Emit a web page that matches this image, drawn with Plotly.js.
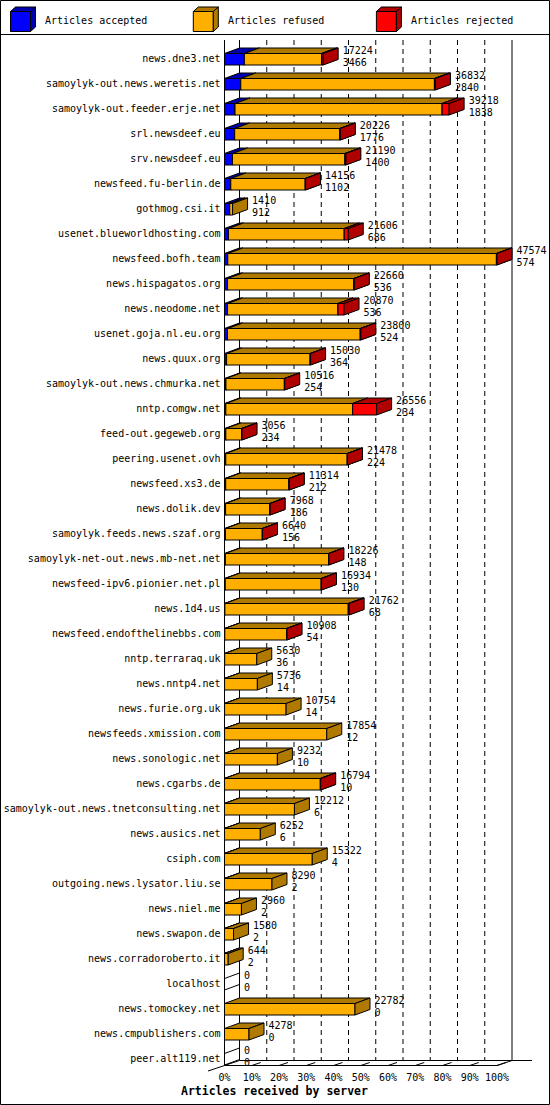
<!DOCTYPE html>
<html>
<head>
<meta charset="utf-8">
<script src="https://cdn.plot.ly/plotly-3.0.1.min.js"></script>
<style>
  html, body { margin: 0; padding: 0; background: #fff; }
  #chart { width: 550px; height: 1105px; }
</style>
</head>
<body>
<div id="chart"></div>
<script>
// ---------------- data ----------------
const hosts = [
  "news.dne3.net", "samoylyk-out.news.weretis.net", "samoylyk-out.feeder.erje.net",
  "srl.newsdeef.eu", "srv.newsdeef.eu", "newsfeed.fu-berlin.de", "gothmog.csi.it",
  "usenet.blueworldhosting.com", "newsfeed.bofh.team", "news.hispagatos.org",
  "news.neodome.net", "usenet.goja.nl.eu.org", "news.quux.org",
  "samoylyk-out.news.chmurka.net", "nntp.comgw.net", "feed-out.gegeweb.org",
  "peering.usenet.ovh", "newsfeed.xs3.de", "news.dolik.dev",
  "samoylyk.feeds.news.szaf.org", "samoylyk-net-out.news.mb-net.net",
  "newsfeed-ipv6.pionier.net.pl", "news.1d4.us", "newsfeed.endofthelinebbs.com",
  "nntp.terraraq.uk", "news.nntp4.net", "news.furie.org.uk", "newsfeeds.xmission.com",
  "news.sonologic.net", "news.cgarbs.de", "samoylyk-out.news.tnetconsulting.net",
  "news.ausics.net", "csiph.com", "outgoing.news.lysator.liu.se", "news.niel.me",
  "news.swapon.de", "news.corradoroberto.it", "localhost", "news.tomockey.net",
  "news.cmpublishers.com", "peer.alt119.net"
];
// articles received (upper label)
const received = [
  17224, 36832, 39218, 20226, 21190, 14156, 1410, 21606, 47574, 22660,
  20870, 23800, 15030, 10516, 26556, 3056, 21478, 11314, 7968, 6640,
  18226, 16934, 21762, 10908, 5630, 5736, 10754, 17854, 9232, 16794,
  12212, 6252, 15322, 8290, 2960, 1580, 644, 0, 22782, 4278, 0
];
// articles accepted (lower label)
const accepted = [
  3466, 2840, 1838, 1776, 1400, 1102, 912, 686, 574, 536,
  536, 524, 364, 254, 234, 234, 224, 212, 186, 156,
  148, 130, 68, 54, 36, 14, 14, 12, 10, 10,
  6, 6, 4, 2, 2, 2, 2, 0, 0, 0, 0
];
// articles rejected (estimated from the red segments)
const rejected = [
  260, 180, 1220, 80, 150, 60, 0, 700, 100, 60,
  1050, 100, 80, 60, 4190, 60, 50, 60, 50, 40,
  60, 50, 150, 50, 0, 0, 0, 0, 0, 60,
  0, 0, 0, 0, 0, 0, 0, 0, 0, 0, 0
];
const refused = received.map((t, i) => t - accepted[i] - rejected[i]);
const tickPercents = [0, 10, 20, 30, 40, 50, 60, 70, 80, 90, 100];
const tickLabels = tickPercents.map(p => p + "%");

const seriesNames = ["Articles accepted", "Articles refused", "Articles rejected"];
const seriesValues = [accepted, refused, rejected];
const frontColors = ["#0000ff", "#ffaf00", "#ff0000"];
const darkColors = ["#0000b0", "#b07a00", "#b00000"];

// ---------------- geometry ----------------
const W = 550, H = 1105;
const X0 = 224.5, X100 = 497;          // pixel of 0% and 100%
const ROW0 = 59.5, PITCH = 25;         // pixel of first row centre, row pitch
const PXPCT = (X100 - X0) / 100;
const xRange = [-X0 / PXPCT, (W - X0) / PXPCT];
const yTopR = -ROW0 / PITCH, yBotR = (H - ROW0) / PITCH;
const px2x = px => (px - X0) / PXPCT;
const py2r = py => (py - ROW0) / PITCH;

const DX = 15 / PXPCT;          // depth in x (percent units)
const DY = -5.5 / PITCH;        // depth in y (row units)
const TOP = -6 / PITCH, BOT = 5.5 / PITCH;

const maxReceived = Math.max(...received);
const pct = v => v / maxReceived * 100;
const rows = hosts.map((_, i) => i);

function pushPoly(arr, pts) {
  pts.forEach(p => { arr.x.push(p[0]); arr.y.push(p[1]); });
  arr.x.push(pts[0][0]); arr.y.push(pts[0][1]);
  arr.x.push(null); arr.y.push(null);
}

const traces = [];
const starts = received.map(() => 0);
seriesValues.forEach((vals, s) => {
  const front = {x: [], y: []}, top = {x: [], y: []}, side = {x: [], y: []};
  vals.forEach((v, i) => {
    if (v <= 0) return;
    const a = pct(starts[i]), b = pct(starts[i] + v);
    starts[i] += v;
    const yt = i + TOP, yb = i + BOT;
    pushPoly(front, [[a, yt], [b, yt], [b, yb], [a, yb]]);
    pushPoly(top, [[a, yt], [b, yt], [b + DX, yt + DY], [a + DX, yt + DY]]);
    pushPoly(side, [[b, yt], [b + DX, yt + DY], [b + DX, yb + DY], [b, yb]]);
  });
  [[front, frontColors[s]], [top, darkColors[s]], [side, darkColors[s]]].forEach(([d, c]) => {
    traces.push({
      type: "scatter", mode: "lines", x: d.x, y: d.y,
      fill: "toself", fillcolor: c,
      line: {color: "#000", width: 1},
      name: seriesNames[s], hoverinfo: "skip", showlegend: false
    });
  });
});

// empty rows: outline of an empty box
const empty = {x: [], y: []};
received.forEach((t, i) => {
  if (t > 0) return;
  const yt = i + TOP, yb = i + BOT;
  pushPoly(empty, [[0, yt], [DX, yt + DY], [DX, yb + DY], [0, yb]]);
});
traces.push({type: "scatter", mode: "lines", x: empty.x, y: empty.y,
  line: {color: "#000", width: 1}, hoverinfo: "skip", showlegend: false});

const mono = "DejaVu Sans Mono, monospace";
// host labels
traces.push({
  type: "scatter", mode: "text", x: rows.map(() => px2x(220.5)), y: rows,
  text: hosts, textposition: "middle left",
  textfont: {family: mono, size: 10, color: "#000"},
  hoverinfo: "skip", showlegend: false, cliponaxis: false
});
// value labels
const labelDX = 19.5 / PXPCT;
traces.push({
  type: "scatter", mode: "text", x: received.map(v => pct(v) + labelDX), y: rows.map(r => r - 8.5 / PITCH),
  text: received.map(String), textposition: "middle right",
  textfont: {family: mono, size: 10, color: "#000"},
  hoverinfo: "skip", showlegend: false, cliponaxis: false
});
traces.push({
  type: "scatter", mode: "text", x: received.map(v => pct(v) + labelDX), y: rows.map(r => r + 3.5 / PITCH),
  text: accepted.map(String), textposition: "middle right",
  textfont: {family: mono, size: 10, color: "#000"},
  hoverinfo: "skip", showlegend: false, cliponaxis: false
});

// ---------------- frame ----------------
const shapes = [];
const line = (x0, y0, x1, y1, dash) => shapes.push({
  type: "line", xref: "x", yref: "y", x0, y0, x1, y1, layer: "below",
  line: {color: "#000", width: 1, dash: dash || "solid"}
});
const rTop = py2r(40), rFront = py2r(1065.5), rBack = py2r(1060.5);
line(0, rTop, 0, rFront);
line(DX, rTop, DX, rBack);
line(100 + DX, rTop, 100 + DX, rBack);
tickPercents.slice(1, -1).forEach(p => line(p + DX, rTop, p + DX, rBack, "5px,4px"));
line(0, rFront, 100, rFront);
line(DX, rBack, px2x(532), rBack);
line(px2x(208), py2r(1071), DX, rBack);
line(100, rFront, 100 + DX, rBack);
tickPercents.slice(1).forEach(p => line(p, rFront, p + DX * 0.6, rFront + (rBack - rFront) * 0.6));

// legend + border (paper coordinates, margins are zero)
const xp = px => px / W, yp = py => 1 - py / H;
const path = pts => "M " + pts.map(p => xp(p[0]) + "," + yp(p[1])).join(" L ") + " Z";
const paperPath = (pts, fill) => shapes.push({type: "path", xref: "paper", yref: "paper",
  path: path(pts), fillcolor: fill, line: {color: "#000", width: 1}});
shapes.push({type: "rect", xref: "paper", yref: "paper", x0: xp(0.5), y0: yp(0.5), x1: xp(549.5), y1: yp(1104.5),
  line: {color: "#000", width: 1}});
shapes.push({type: "line", xref: "paper", yref: "paper", x0: 0, y0: yp(34.5), x1: 1, y1: yp(34.5),
  line: {color: "#000", width: 1}});
const legendX = [10.5, 193.3, 376.4];
const legendTextX = [42.5, 226, 409];
const annotations = [];
legendX.forEach((lx, s) => {
  paperPath([[lx, 11.5], [lx + 20, 11.5], [lx + 20, 31.5], [lx, 31.5]], frontColors[s]);
  paperPath([[lx, 11.5], [lx + 20, 11.5], [lx + 25, 7], [lx + 5, 7]], darkColors[s]);
  paperPath([[lx + 20, 11.5], [lx + 25, 7], [lx + 25, 27], [lx + 20, 31.5]], darkColors[s]);
  annotations.push({xref: "paper", yref: "paper", x: xp(legendTextX[s]), y: yp(20.5),
    xanchor: "left", yanchor: "middle", showarrow: false, text: seriesNames[s],
    font: {family: mono, size: 10, color: "#000"}});
});
annotations.push({xref: "paper", yref: "paper", x: xp(274), y: yp(1091),
  xanchor: "center", yanchor: "middle", showarrow: false,
  text: "<b>Articles received by server</b>",
  font: {family: mono, size: 11.5, color: "#000"}});

const layout = {
  width: W, height: H,
  margin: {l: 0, r: 0, t: 0, b: 0, pad: 0},
  paper_bgcolor: "#fff", plot_bgcolor: "#fff",
  showlegend: false,
  xaxis: {range: xRange, tickvals: tickPercents, ticktext: tickLabels,
    showgrid: false, zeroline: false, showline: false, ticks: "",
    anchor: "free", position: 1 - 1069.5 / H,
    tickfont: {family: mono, size: 10, color: "#000"}, fixedrange: true},
  yaxis: {range: [yBotR, yTopR], showgrid: false, zeroline: false, showline: false,
    showticklabels: false, ticks: "", fixedrange: true},
  shapes, annotations
};
Plotly.newPlot("chart", traces, layout, {staticPlot: true, displayModeBar: false});
</script>
</body>
</html>
